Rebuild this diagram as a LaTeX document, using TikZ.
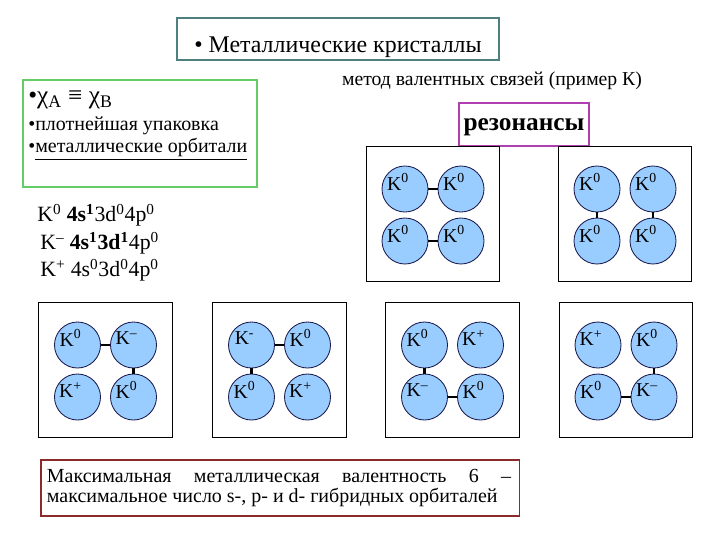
\documentclass[tikz,border=0pt]{standalone}
\usepackage{fontspec}
\setmainfont{Liberation Serif}
\usetikzlibrary{positioning}
\definecolor{atomfill}{HTML}{99CCFF}
\definecolor{atomline}{HTML}{1A1A4D}
\definecolor{titleline}{HTML}{4F8080}
\definecolor{greenline}{HTML}{66CC66}
\definecolor{resline}{HTML}{B040B0}
\definecolor{noteline}{HTML}{8B2A2A}
\newcommand{\fsz}[1]{\fontsize{#1}{#1}\selectfont}
\newcommand{\resgroup}[7]{%
  \node[cell] (#1) at (#2,#3) {};
  \node[atom] (#1-a) at ({#2-28},{#3-25}) {};
  \node[atom] (#1-b) at ({#2+28},{#3-25}) {};
  \node[atom] (#1-c) at ({#2-28},{#3+27}) {};
  \node[atom] (#1-d) at ({#2+28},{#3+27}) {};
  \node[klab] (#1-ta) at ([shift={(-7,-7)}]#1-a.center) {#4};
  \node[klab] (#1-tb) at ([shift={(-7,-7)}]#1-b.center) {#5};
  \node[klab] (#1-tc) at ([shift={(-7,-7)}]#1-c.center) {#6};
  \node[klab] (#1-td) at ([shift={(-7,-7)}]#1-d.center) {#7};
}
\newcommand{\Kz}{K\textsuperscript{0}}
\newcommand{\Km}{K\textsuperscript{–}}
\newcommand{\Kp}{K\textsuperscript{+}}

\begin{document}
\begin{tikzpicture}[x=0.025cm, y=-0.025cm,
  atom/.style={circle, draw=atomline, line width=0.6pt, fill=atomfill, minimum size=1.15cm, inner sep=0pt},
  klab/.style={font=\fsz{14}, inner sep=0pt},
  bond/.style={line width=2pt, black},
  cell/.style={draw, line width=0.7pt, minimum width=3.325cm, minimum height=3.35cm, inner sep=0pt},
  frame/.style={draw, line width=0.8pt, inner sep=0pt},
  txt/.style={anchor=west, inner sep=0pt}
]
  \useasboundingbox (0,0) rectangle (720,540);

  % Title
  \node[frame, draw=titleline, minimum width=8.05cm, minimum height=1.05cm] (title) at (338,39) {};
  \node[font=\fsz{17}] (titletext) at (338,47) {• Металлические кристаллы};

  % Green box with properties
  \node[frame, draw=greenline, minimum width=5.85cm, minimum height=2.675cm] (props) at (140,133.5) {};
  \node[txt, font=\fsz{18}] (chi) at (28,100) {•χ\textsubscript{A} ≡ χ\textsubscript{B}};
  \node[txt, font=\fsz{14.2}] (pack) at (28,126) {•плотнейшая упаковка};
  \node[txt, font=\fsz{14.2}] (orb) at (28,149) {•\underline{металлические орбитали}};

  % Method and resonances
  \node[font=\fsz{14}] (method) at (492,81) {метод валентных связей (пример К)};
  \node[frame, draw=resline, minimum width=3.25cm, minimum height=1.075cm] (res) at (524,124.5) {};
  \node[font=\fsz{18}\bfseries] (restext) at (524,127) {резонансы};

  % Electron configurations
  \node[txt, font=\fsz{15.5}] (cfg0) at (37,215) {\Kz{} \textbf{4s\textsuperscript{1}}3d\textsuperscript{0}4p\textsuperscript{0}};
  \node[txt, font=\fsz{15.5}] (cfgm) at (40,243) {\Km{} \textbf{4s\textsuperscript{1}3d\textsuperscript{1}}4p\textsuperscript{0}};
  \node[txt, font=\fsz{15.5}] (cfgp) at (40,270) {\Kp{} 4s\textsuperscript{0}3d\textsuperscript{0}4p\textsuperscript{0}};

  % Resonance structures, top row
  \resgroup{r1}{433}{214}{\Kz}{\Kz}{\Kz}{\Kz}
  \draw[bond] (r1-a) -- (r1-b);
  \draw[bond] (r1-c) -- (r1-d);
  \resgroup{r2}{625}{214}{\Kz}{\Kz}{\Kz}{\Kz}
  \draw[bond] (r2-a) -- (r2-c);
  \draw[bond] (r2-b) -- (r2-d);

  % Resonance structures, bottom row
  \resgroup{r3}{105.5}{370}{\Kz}{\Km}{\Kp}{\Kz}
  \draw[bond] (r3-a) -- (r3-b);
  \draw[bond] (r3-b) -- (r3-d);
  \resgroup{r4}{279.5}{370}{K\textsuperscript{-}}{\Kz}{\Kz}{\Kp}
  \draw[bond] (r4-a) -- (r4-b);
  \draw[bond] (r4-a) -- (r4-c);
  \resgroup{r5}{452.5}{370}{\Kz}{\Kp}{\Km}{\Kz}
  \draw[bond] (r5-a) -- (r5-c);
  \draw[bond] (r5-c) -- (r5-d);
  \resgroup{r6}{626}{370}{\Kp}{\Kz}{\Kz}{\Km}
  \draw[bond] (r6-b) -- (r6-d);
  \draw[bond] (r6-c) -- (r6-d);

  % Conclusion
  \node[frame, draw=noteline, minimum width=11.95cm, minimum height=1.4cm] (note) at (280,488) {};
  \node[font=\fsz{14.2}, text width=11.6cm, align=justify, inner sep=0pt] (notetext) at (279,488)
    {Максимальная металлическая валентность 6 –\linebreak максимальное число s-, p- и d- гибридных орбиталей};
\end{tikzpicture}
\end{document}
